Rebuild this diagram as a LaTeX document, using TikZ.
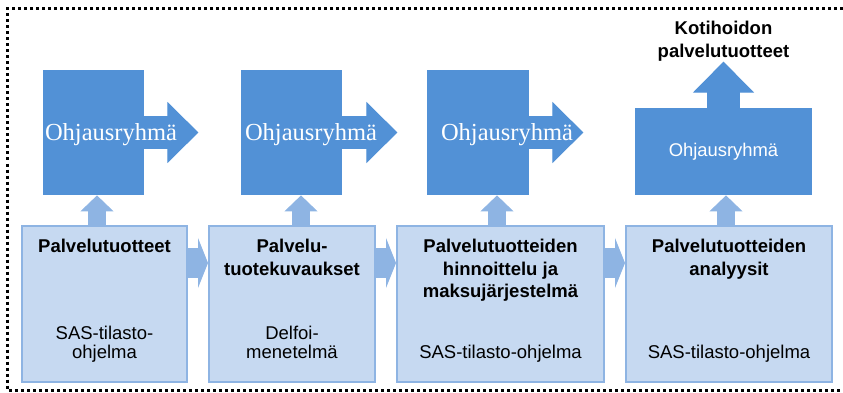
\documentclass[tikz,border=0pt]{standalone}
\usepackage{fontspec}
\setmainfont{Liberation Serif}
\setsansfont{Liberation Sans}
\usetikzlibrary{arrows.meta, positioning, calc}

\definecolor{ohjblue}{RGB}{82,145,214}
\definecolor{phasefill}{RGB}{198,217,241}
\definecolor{phaseline}{RGB}{142,180,227}

\begin{document}
\begin{tikzpicture}[x=1pt, y=-1pt, node distance=20pt and 20pt, thick]
  % Define styles
  \tikzstyle{phase} = [rectangle, minimum width=165pt, minimum height=156pt, fill=phasefill, draw=phaseline, line width=2pt]
  \tikzstyle{ohjbox} = [rectangle, fill=ohjblue, inner sep=0pt, minimum width=101pt, minimum height=125pt]
  \tikzstyle{ohjtext} = [text=white, inner sep=0pt, yshift=-2.5pt, font=\rmfamily\fontsize{24.5}{28}\selectfont]
  \tikzstyle{phasetitle} = [inner sep=0pt, align=center, font=\sffamily\bfseries\fontsize{18.5}{22.5}\selectfont]
  \tikzstyle{phasetool} = [inner sep=0pt, align=center, text depth=4pt, font=\sffamily\fontsize{18.5}{19}\selectfont]
  \tikzstyle{bigarrow} = [draw=ohjblue, line width=33pt, -{Triangle[length=31pt, width=61pt, line width=1pt]}]
  \tikzstyle{uparrow} = [draw=phaseline, line width=18pt, -{Triangle[length=16pt, width=33pt, line width=1pt]}]
  \tikzstyle{nextarrow} = [draw=phaseline, line width=30pt, -{Triangle[length=10pt, width=50pt, line width=1pt]}]

  \useasboundingbox (0,0) rectangle (843,393);
  \draw[line width=3pt, dash pattern=on 3pt off 3pt] (843,9) -- (7.5,9) -- (7.5,390) -- (843,390);

  % Place nodes
  \node [phase] (b1) at (104.5,304) {};
  \node [phase, minimum width=166pt, right=of b1] (b2) {};
  \node [phase, minimum width=207pt, right=of b2] (b3) {};
  \node [phase, minimum width=206pt, right=of b3] (b4) {};

  \node [ohjbox] (t1) at (93.5,132.5) {};
  \node [ohjbox] (t2) at (291.5,132.5) {};
  \node [ohjbox, minimum width=102pt] (t3) at (478,132.5) {};
  \node [ohjbox, minimum width=177pt, minimum height=87pt, text=white,
         font=\sffamily\fontsize{18.4}{22}\selectfont] (t4) at (723.5,151.5) {Ohjausryhmä};

  \coordinate [right=54pt of t1.east] (tip1);
  \coordinate [right=55pt of t2.east] (tip2);
  \coordinate [right=54pt of t3.east] (tip3);
  \coordinate [above=46pt of t4.north] (tip4);

  % Draw edges
  \path [bigarrow] (t1.east) -- (tip1);
  \path [bigarrow] (t2.east) -- (tip2);
  \path [bigarrow] (t3.east) -- (tip3);
  \path [bigarrow] (t4.north) -- (tip4);

  \path [uparrow] ([xshift=-7.5pt]b1.north) -- ([xshift=-7.5pt]b1.north |- t1.south);
  \path [uparrow] ([xshift=9pt]b2.north) -- ([xshift=9pt]b2.north |- t2.south);
  \path [uparrow] ([xshift=-3.5pt]b3.north) -- ([xshift=-3.5pt]b3.north |- t3.south);
  \path [uparrow] ([xshift=-3pt]b4.north) -- ([xshift=-3pt]b4.north |- t4.south);

  \path [nextarrow] ([yshift=41pt]b1.east) -- ([yshift=41pt]b2.west);
  \path [nextarrow] ([yshift=41pt]b2.east) -- ([yshift=41pt]b3.west);
  \path [nextarrow] ([yshift=41pt]b3.east) -- ([yshift=41pt]b4.west);

  % Texts
  \node [ohjtext, right=2pt of t1.west] (o1) {Ohjausryhmä};
  \node [ohjtext, right=4pt of t2.west] (o2) {Ohjausryhmä};
  \node [ohjtext, right=14pt of t3.west] (o3) {Ohjausryhmä};
  \node [phasetitle, above=0pt of tip4] (goal) {Kotihoidon\\palvelutuotteet};

  \node [phasetitle, below=14pt of b1.north] (h1) {Palvelutuotteet};
  \node [phasetitle, below=14pt of b2.north] (h2) {Palvelu-\\tuotekuvaukset};
  \node [phasetitle, below=14pt of b3.north] (h3) {Palvelutuotteiden\\hinnoittelu ja\\maksujärjestelmä};
  \node [phasetitle, below=14pt of b4.north] (h4) {Palvelutuotteiden\\analyysit};

  \node [phasetool, above=20pt of b1.south] (s1) {SAS-tilasto-\\ohjelma};
  \node [phasetool, above=20pt of b2.south] (s2) {Delfoi-\\menetelmä};
  \node [phasetool, above=20pt of b3.south] (s3) {SAS-tilasto-ohjelma};
  \node [phasetool, above=20pt of b4.south] (s4) {SAS-tilasto-ohjelma};
\end{tikzpicture}
\end{document}
